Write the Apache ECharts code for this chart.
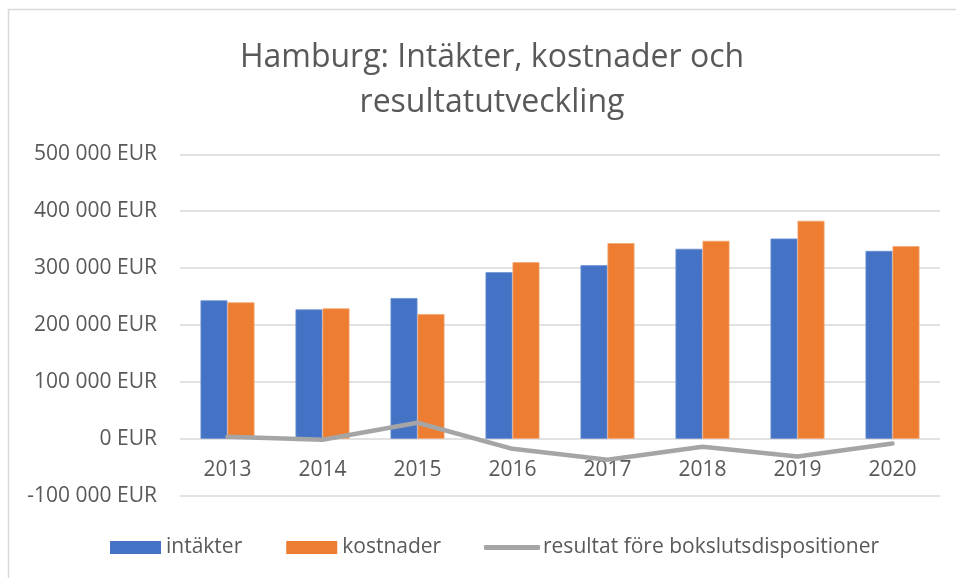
<!DOCTYPE html>
<html>
<head>
<meta charset='utf-8' />
<title>Hamburg</title>
<style>
html, body { margin: 0; padding: 0; background: #fff; }
#chart { width: 956px; height: 578px; }
</style>
</head>
<body>
<div id="chart"></div>
<script src="https://cdn.jsdelivr.net/npm/echarts@6/dist/echarts.min.js"></script>
<script>
// data
var years = ['2013', '2014', '2015', '2016', '2017', '2018', '2019', '2020'];
var intakter = [243400, 227500, 247400, 292800, 305100, 333900, 352000, 330300];
var kostnader = [239900, 229300, 219200, 310400, 343900, 348000, 383200, 338600];
var resultat = [3500, -1800, 28200, -17600, -37000, -14100, -31200, -8300];

var textColor = '#595959';
var fontName = 'Open Sans';

var myChart = echarts.init(document.getElementById('chart'));

function fmtEur(v) {
  var s = String(Math.abs(v)).replace(/\B(?=(\d{3})+(?!\d))/g, ' ');
  return (v < 0 ? '-' : '') + s + ' EUR';
}

var option = {
  backgroundColor: '#fff',
  animation: false,
  title: {
    text: 'Hamburg: Intäkter, kostnader och\nresultatutveckling',
    left: 487,
    textAlign: 'center',
    top: 30,
    textStyle: {
      color: textColor,
      fontFamily: fontName,
      fontWeight: 'normal',
      fontSize: 32,
      lineHeight: 45
    }
  },
  graphic: [{
    type: 'rect',
    shape: { x: 8.5, y: 9.5, width: 980, height: 620 },
    style: { fill: 'none', stroke: '#d9d9d9', lineWidth: 1.5 },
    silent: true
  }],
  legend: [
    {
      left: 110,
      top: 537,
      padding: 0,
      itemWidth: 51,
      itemHeight: 13,
      itemGap: 44,
      itemStyle: { borderWidth: 0 },
      textStyle: { color: textColor, fontFamily: fontName, fontSize: 21 },
      data: [
        { name: 'intäkter', icon: 'rect' },
        { name: 'kostnader', icon: 'rect' }
      ]
    },
    {
      left: 484,
      top: 537,
      padding: 0,
      itemWidth: 56,
      itemHeight: 5,
      textStyle: { color: textColor, fontFamily: fontName, fontSize: 21, padding: [0, 0, 0, -2] },
      data: [{ name: 'resultat före bokslutsdispositioner', icon: 'roundRect' }]
    }
  ],
  grid: {
    left: 180,
    right: 16,
    top: 154.3,
    bottom: 82.3,
    containLabel: false
  },
  xAxis: {
    type: 'category',
    data: years,
    axisLine: { show: false, onZero: false },
    axisTick: { show: false },
    axisLabel: { color: textColor, fontFamily: fontName, fontSize: 21, margin: -36 }
  },
  yAxis: {
    type: 'value',
    min: -100000,
    max: 500000,
    interval: 100000,
    axisLine: { show: false },
    axisTick: { show: false },
    splitLine: { lineStyle: { color: '#d9d9d9', width: 1.5 } },
    axisLabel: {
      color: textColor,
      fontFamily: fontName,
      fontSize: 21,
      margin: 23,
      formatter: fmtEur
    }
  },
  series: [
    {
      name: 'intäkter',
      type: 'bar',
      data: intakter,
      barWidth: 27,
      barGap: '0%',
      itemStyle: { color: '#4472c4', borderColor: '#6f92d3', borderWidth: 0.8 }
    },
    {
      name: 'kostnader',
      type: 'bar',
      data: kostnader,
      barWidth: 27,
      itemStyle: { color: '#ed7d31', borderColor: '#f4a874', borderWidth: 0.8 }
    },
    {
      name: 'resultat före bokslutsdispositioner',
      type: 'line',
      data: resultat,
      symbol: 'none',
      z: 5,
      lineStyle: { color: '#a5a5a5', width: 4.5, cap: 'round', join: 'round' },
      itemStyle: { color: '#a5a5a5' }
    }
  ]
};

myChart.setOption(option);
</script>
</body>
</html>
